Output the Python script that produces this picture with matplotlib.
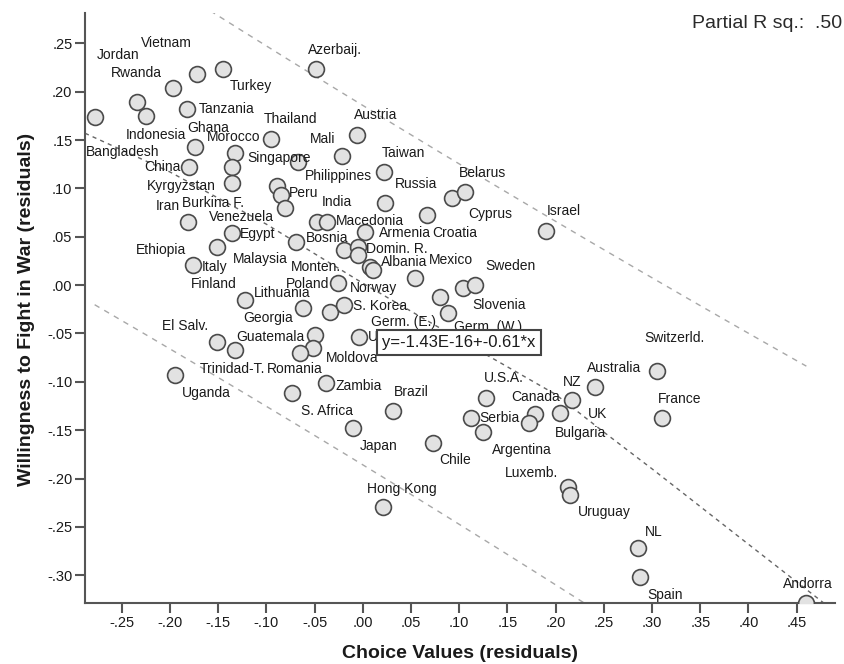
import numpy as np
import matplotlib.pyplot as plt
from matplotlib.ticker import FuncFormatter

plt.rcParams['font.family'] = ['Liberation Sans', 'DejaVu Sans']

countries = [
    'Bangladesh', 'Jordan', 'Indonesia', 'Rwanda', 'Vietnam', 'Turkey', 'Azerbaij.',
    'Tanzania', 'Ghana', 'Morocco', 'Singapore', 'Kyrgyzstan', 'China', 'Thailand',
    'Austria', 'Mali', 'Taiwan', 'Philippines', 'Burkina F.', 'Peru', 'Venezuela',
    'Russia', 'Cyprus', 'Belarus', 'Croatia', 'India', 'Macedonia', 'Armenia',
    'Bosnia', 'Monten.', 'Domin. R.', 'Malaysia', 'Albania', 'Finland', 'Mexico',
    'Slovenia', 'Sweden', 'Poland', 'Germ. (E.)', 'Germ. (W.)', 'Georgia', 'Norway',
    'S. Korea', 'Guatemala', 'Moldova', 'Romania', 'Ukraine', 'Iran', 'Egypt',
    'Ethiopia', 'Italy', 'Lithuania', 'El Salv.', 'Trinidad-T.', 'Uganda',
    'S. Africa', 'Zambia', 'Brazil', 'Japan', 'Chile', 'Hong Kong', 'U.S.A.',
    'Serbia', 'Argentina', 'Canada', 'Bulgaria', 'UK', 'NZ', 'Australia',
    'Switzerld.', 'France', 'Luxemb.', 'Uruguay', 'NL', 'Spain', 'Andorra', 'Israel',
]

choice_values = [
    -0.278, -0.234, -0.225, -0.197, -0.172, -0.145, -0.048,
    -0.182, -0.174, -0.132, -0.136, -0.136, -0.180, -0.095,
    -0.006, -0.021, 0.022, -0.067, -0.089, -0.085, -0.081,
    0.023, 0.093, 0.106, 0.067, -0.047, -0.037, 0.002,
    -0.069, -0.019, -0.005, -0.005, 0.008, 0.011, 0.054,
    0.104, 0.116, -0.026, 0.080, 0.088, -0.062, -0.034,
    -0.019, -0.050, -0.052, -0.065, -0.004, -0.181, -0.136,
    -0.151, -0.176, -0.122, -0.151, -0.132, -0.195,
    -0.073, -0.038, 0.031, -0.010, 0.073, 0.021, 0.128,
    0.112, 0.125, 0.179, 0.172, 0.205, 0.217, 0.241,
    0.305, 0.310, 0.213, 0.215, 0.285, 0.288, 0.460, 0.190,
]

willingness = [
    0.174, 0.189, 0.175, 0.204, 0.218, 0.223, 0.223,
    0.182, 0.143, 0.137, 0.122, 0.106, 0.122, 0.151,
    0.155, 0.133, 0.117, 0.127, 0.102, 0.093, 0.080,
    0.085, 0.090, 0.096, 0.072, 0.065, 0.065, 0.055,
    0.045, 0.036, 0.039, 0.031, 0.019, 0.016, 0.007,
    -0.003, 0.000, 0.002, -0.012, -0.029, -0.024, -0.028,
    -0.021, -0.052, -0.065, -0.070, -0.054, 0.065, 0.054,
    0.039, 0.021, -0.015, -0.059, -0.067, -0.093,
    -0.112, -0.101, -0.130, -0.148, -0.163, -0.229, -0.117,
    -0.137, -0.152, -0.133, -0.143, -0.132, -0.119, -0.105,
    -0.089, -0.137, -0.209, -0.217, -0.272, -0.302, -0.329, 0.056,
]

# where each name sits relative to its marker, in pixels (right, up)
label_offsets = [
    (28, -35), (-19, 47), (10, -19), (-36, 15), (-30, 31), (28, -17), (19, 19),
    (39, 0), (13, 19), (-2, 16), (47, 9), (-50, -3), (-27, 0), (19, 20),
    (19, 20), (-20, 17), (19, 19), (40, -14), (-64, -17), (23, 2), (-43, -9),
    (31, 19), (38, -16), (18, 19), (27, -18), (19, 20), (43, 1), (40, -1),
    (31, 4), (-28, -17), (39, -2), (-98, -4), (34, 5), (-160, -14), (36, 18),
    (36, -17), (36, 19), (-30, -1), (-36, -25), (40, -14), (-35, -10), (44, 24),
    (36, -1), (-44, -2), (40, -10), (-5, -16), (33, 0), (-20, 16), (26, -1),
    (-56, -3), (22, -2), (37, 7), (-32, 16), (-3, -19), (32, -18),
    (35, -18), (33, -3), (19, 19), (26, -18), (22, -17), (19, 18), (18, 20),
    (29, 0), (39, -18), (0, 17), (52, -10), (37, -1), (0, 18), (19, 19),
    (18, 33), (18, 19), (-37, 14), (34, -17), (16, 16), (25, -18), (1, 19), (18, 20),
]

# linear fit shown in the box
fit_intercept = -1.43e-16
fit_slope = -0.61

# smoothed (loess) curve through the cloud
loess_x = [-0.288, -0.2, -0.1, 0.0, 0.1, 0.2, 0.25, 0.3, 0.4, 0.49]
loess_y = [0.157, 0.117, 0.063, 0.002, -0.056, -0.113, -0.152, -0.19, -0.268, -0.338]

x = np.array(choice_values)
y = np.array(willingness)

fig = plt.figure(figsize=(8.45, 6.64), dpi=100)
ax = fig.add_axes([85 / 845, 1 - 603.3 / 664, 750 / 845, 590 / 664])
ax.set_xlim(-0.288, 0.4897)
ax.set_ylim(-0.329, 0.281)

# 95% prediction band for individual cases around the linear fit
n = len(x)
resid = y - (fit_intercept + fit_slope * x)
s = np.sqrt(np.sum(resid ** 2) / (n - 2))
sxx = np.sum((x - x.mean()) ** 2)
xx = np.linspace(x.min(), x.max(), 200)
yy = fit_intercept + fit_slope * xx
half = 1.992 * s * np.sqrt(1 + 1 / n + (xx - x.mean()) ** 2 / sxx)
ax.plot(xx, yy + half, color='#a8a8a8', lw=1.0, ls=(0, (4, 4)), zorder=1)
ax.plot(xx, yy - half, color='#a8a8a8', lw=1.0, ls=(0, (4, 4)), zorder=1)

ax.plot(loess_x, loess_y, color='#666666', lw=1.0, ls=(0, (3, 3)), zorder=1)

ax.scatter(x, y, s=130, facecolor='#e2e2e2', edgecolor='#4a4a4a',
           linewidths=1.2, zorder=3)

for name, xv, yv, off in zip(countries, x, y, label_offsets):
    ax.annotate(name, (xv, yv), xytext=off, textcoords='offset pixels',
                ha='center', va='center', fontsize=10, color='#1a1a1a',
                zorder=4, annotation_clip=False)

ax.text(0.4987, 0.442, 'y=-1.43E-16+-0.61*x', transform=ax.transAxes,
        ha='center', va='center', fontsize=12, color='#1a1a1a', zorder=6,
        bbox=dict(boxstyle='square,pad=0.3', facecolor='white',
                  edgecolor='#444444', linewidth=1.5))

for side in ['top', 'right']:
    ax.spines[side].set_visible(False)
for side in ['left', 'bottom']:
    ax.spines[side].set_color('#555555')
    ax.spines[side].set_linewidth(1.5)

ax.set_xticks(np.round(np.arange(-0.25, 0.451, 0.05), 2))
ax.set_yticks(np.round(np.arange(-0.30, 0.251, 0.05), 2))


def strip_zero(v, pos):
    if abs(v) < 1e-9:
        v = 0.0
    txt = f'{v:.2f}'
    return txt.replace('0.', '.', 1)


ax.xaxis.set_major_formatter(FuncFormatter(strip_zero))
ax.yaxis.set_major_formatter(FuncFormatter(strip_zero))
ax.tick_params(direction='out', length=7, width=1.5, color='#555555',
               labelsize=10.5, labelcolor='#1a1a1a', pad=2)

fig.text(460 / 845, 1 - 653 / 664, 'Choice Values (residuals)', ha='center',
         va='center', fontsize=14, fontweight='bold', color='#1a1a1a')
fig.text(27 / 845, 1 - 309.5 / 664, 'Willingness to Fight in War (residuals)',
         ha='center', va='center', rotation=90, fontsize=14,
         fontweight='bold', color='#1a1a1a')
fig.text(842 / 845, 1 - 24 / 664, 'Partial R sq.:  .50', ha='right',
         va='center', fontsize=14, color='#2a2a2a')

fig.savefig('out.png', dpi=100)
